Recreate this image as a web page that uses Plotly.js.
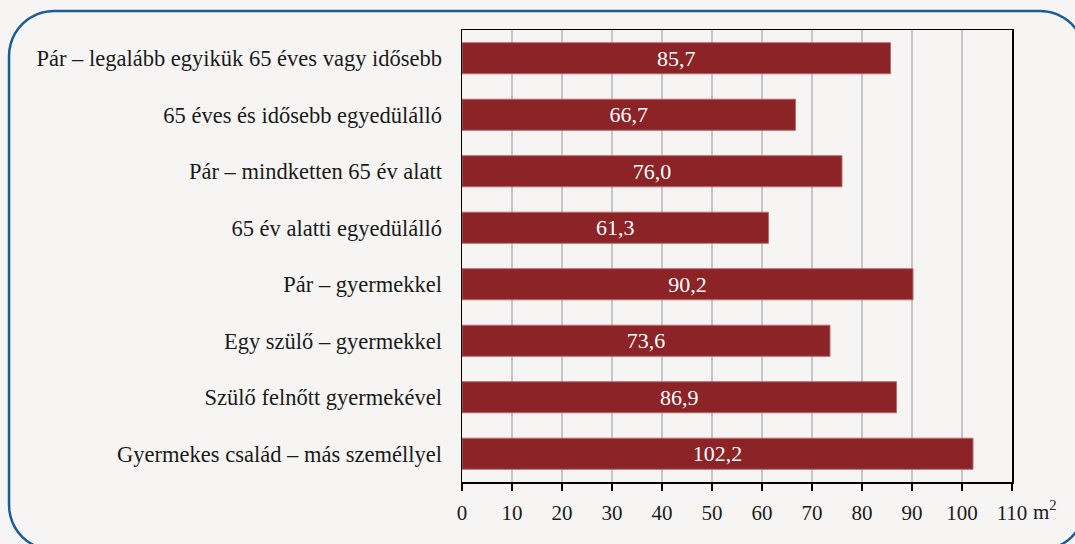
<!DOCTYPE html>
<html>
<head>
<meta charset="utf-8">
<script src="https://cdn.plot.ly/plotly-3.0.1.min.js"></script>
<style>
  html, body { margin: 0; padding: 0; background: #f6f5f3; }
  #chart { width: 1075px; height: 544px; }
</style>
</head>
<body>
<div id="chart"></div>
<script>
// Háztartástípusok (felülről lefelé)
const categories = [
  "Pár – legalább egyikük 65 éves vagy idősebb",
  "65 éves és idősebb egyedülálló",
  "Pár – mindketten 65 év alatt",
  "65 év alatti egyedülálló",
  "Pár – gyermekkel",
  "Egy szülő – gyermekkel",
  "Szülő felnőtt gyermekével",
  "Gyermekes család – más személlyel"
];
const values = [85.7, 66.7, 76.0, 61.3, 90.2, 73.6, 86.9, 102.2];
const tickVals = [0, 10, 20, 30, 40, 50, 60, 70, 80, 90, 100, 110];

const W = 1075, H = 544;
const M = { l: 462, r: 63, t: 30, b: 62 };
const pw = W - M.l - M.r, ph = H - M.t - M.b;
// pixel -> paper
const px = (x) => (x - M.l) / pw;
const py = (y) => (H - M.b - y) / ph;

// lekerekített keret (paper koordinátákban, pontokból)
function roundRect(x0, y0, x1, y1, r) {
  const pts = [];
  const arc = (cx, cy, a0, a1) => {
    for (let i = 0; i <= 12; i++) {
      const a = a0 + (a1 - a0) * i / 12;
      pts.push([cx + r * Math.cos(a), cy + r * Math.sin(a)]);
    }
  };
  arc(x0 + r, y0 + r, Math.PI, 1.5 * Math.PI);
  arc(x1 - r, y0 + r, 1.5 * Math.PI, 2 * Math.PI);
  arc(x1 - r, y1 - r, 0, 0.5 * Math.PI);
  arc(x0 + r, y1 - r, 0.5 * Math.PI, Math.PI);
  return "M " + pts.map((p) => px(p[0]).toFixed(4) + "," + py(p[1]).toFixed(4)).join(" L ") + " Z";
}

const font = "Liberation Serif";

const data = [{
  type: "bar",
  orientation: "h",
  y: categories,
  x: values,
  width: 0.55,
  marker: { color: "#8b2327", line: { color: "#b86a6c", width: 1 } },
  text: values.map((v) => v.toFixed(1).replace(".", ",")),
  textposition: "inside",
  insidetextanchor: "middle",
  textangle: 0,
  textfont: { family: font, size: 22, color: "#ffffff" },
  hoverinfo: "none",
  cliponaxis: false
}];

const layout = {
  width: W,
  height: H,
  margin: M,
  paper_bgcolor: "#f6f5f3",
  plot_bgcolor: "#f6f5f3",
  showlegend: false,
  font: { family: font, size: 21, color: "#1a1a1a" },
  xaxis: {
    range: [0, 110],
    tickvals: tickVals,
    ticktext: tickVals.map(String),
    showgrid: true,
    gridcolor: "#c4c6ca",
    gridwidth: 1.5,
    zeroline: false,
    showline: true,
    linecolor: "#000000",
    linewidth: 1.5,
    mirror: true,
    ticks: "outside",
    ticklen: 7,
    tickwidth: 1.5,
    tickcolor: "#000000",
    ticklabelstandoff: 4,
    tickfont: { family: font, size: 21, color: "#1a1a1a" },
    fixedrange: true
  },
  yaxis: {
    autorange: "reversed",
    showgrid: false,
    showline: true,
    linecolor: "#000000",
    linewidth: 1.5,
    mirror: true,
    ticks: "",
    ticklabelstandoff: 14,
    tickfont: { family: font, size: 22.5, color: "#1a1a1a" },
    fixedrange: true
  },
  annotations: [{
    xref: "paper", yref: "paper",
    x: px(1031), y: py(511),
    xanchor: "left", yanchor: "middle",
    text: "m<sup>2</sup>",
    showarrow: false,
    font: { family: font, size: 21, color: "#1a1a1a" }
  }],
  shapes: [{
    type: "path",
    xref: "paper", yref: "paper",
    path: roundRect(9, 11, 1085, 550, 45),
    line: { color: "#1b5c9b", width: 2.5 },
    fillcolor: "rgba(0,0,0,0)",
    layer: "below"
  }]
};

Plotly.newPlot("chart", data, layout, { displayModeBar: false, staticPlot: true });
</script>
</body>
</html>
